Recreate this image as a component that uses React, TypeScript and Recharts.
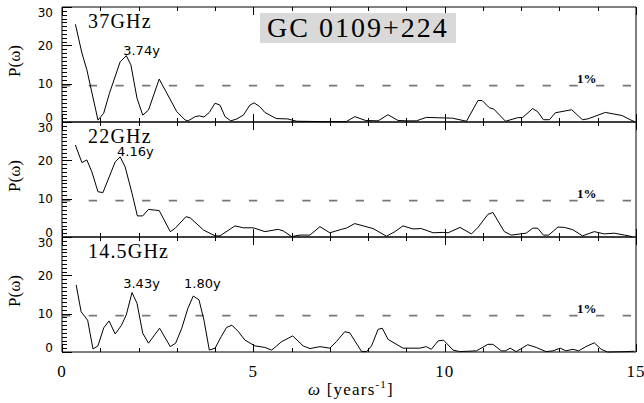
import { LineChart, Line, XAxis, YAxis, ReferenceLine, ReferenceDot } from 'recharts';

// periodogram samples: frequency (1/yr) and power per band
const omega37 = [0.35, 0.52, 0.65, 0.94, 1.09, 1.24, 1.52, 1.68, 1.8, 1.96, 2.11, 2.26, 2.54, 2.74, 3.0, 3.22, 3.3, 3.48, 3.59, 3.71, 3.85, 4.0, 4.13, 4.26, 4.41, 4.57, 4.74, 4.91, 5.02, 5.17, 5.3, 5.6, 5.9, 6.13, 6.83, 7.43, 7.65, 7.93, 8.26, 8.52, 8.78, 9.0, 9.26, 9.52, 9.85, 10.2, 10.57, 10.87, 10.98, 11.17, 11.28, 11.59, 11.9, 12.04, 12.3, 12.43, 12.58, 12.74, 12.89, 13.32, 13.6, 13.74, 14.2, 14.63, 14.87, 14.96];
const power37 = [25.5, 18.0, 13.6, 0.5, 2.3, 7.5, 15.7, 17.3, 14.9, 6.2, 1.8, 3.1, 11.2, 7.5, 2.7, 0.5, 0.3, 1.4, 1.6, 1.3, 2.5, 4.9, 4.4, 1.4, 0.3, 0.8, 1.8, 4.4, 5.0, 4.0, 2.5, 0.9, 0.8, 0.2, 0.1, 0.1, 1.4, 0.4, 0.3, 1.9, 0.4, 0.3, 0.3, 1.2, 1.1, 1.0, 0.2, 5.6, 5.6, 3.7, 3.4, 0.2, 1.1, 1.2, 3.5, 2.7, 0.6, 0.6, 2.4, 3.2, 0.6, 0.8, 2.5, 1.7, 0.5, 0.1];

const omega22 = [0.35, 0.52, 0.65, 0.78, 0.94, 1.07, 1.39, 1.52, 1.65, 1.83, 1.97, 2.11, 2.26, 2.54, 2.83, 2.96, 3.24, 3.35, 3.7, 4.0, 4.13, 4.52, 4.74, 5.0, 5.3, 5.65, 5.78, 6.0, 6.22, 6.48, 6.74, 7.0, 7.3, 7.43, 7.65, 7.87, 8.13, 8.48, 8.7, 8.91, 9.17, 9.39, 9.7, 9.96, 10.09, 10.4, 10.7, 10.87, 11.13, 11.26, 11.56, 11.74, 12.13, 12.3, 12.43, 12.58, 12.72, 12.96, 13.13, 13.35, 13.6, 13.91, 14.17, 14.43, 14.7, 14.9];
const power22 = [24.0, 19.4, 20.1, 17.0, 11.8, 11.6, 19.6, 20.9, 18.3, 11.4, 5.5, 5.5, 7.2, 6.9, 1.4, 2.3, 5.3, 5.0, 1.8, 0.3, 0.3, 2.9, 2.4, 2.4, 1.4, 2.0, 1.6, 0.1, 0.5, 0.5, 2.7, 1.1, 2.0, 2.3, 3.5, 2.9, 2.2, 0.2, 1.4, 2.9, 2.1, 2.2, 1.1, 1.2, 1.1, 2.5, 0.8, 2.5, 5.9, 6.4, 1.4, 0.5, 1.0, 2.3, 2.3, 0.5, 0.5, 2.6, 2.5, 1.9, 0.3, 1.4, 0.8, 1.0, 0.5, 0.1];

const omega145 = [0.37, 0.5, 0.67, 0.81, 0.94, 1.09, 1.23, 1.39, 1.55, 1.68, 1.83, 1.96, 2.11, 2.26, 2.55, 2.83, 2.97, 3.13, 3.29, 3.43, 3.58, 3.71, 3.85, 4.0, 4.16, 4.3, 4.44, 4.61, 4.78, 5.04, 5.3, 5.48, 5.74, 6.03, 6.3, 6.48, 6.74, 7.0, 7.17, 7.39, 7.52, 7.83, 7.96, 8.09, 8.26, 8.37, 8.52, 8.91, 9.35, 9.52, 9.65, 9.83, 9.97, 10.22, 10.39, 10.83, 11.13, 11.26, 11.48, 11.59, 11.71, 11.87, 12.17, 12.39, 12.65, 12.83, 13.02, 13.17, 13.35, 13.5, 13.69, 13.91, 14.09, 14.26, 14.74, 14.96];
const power145 = [17.5, 10.5, 8.3, 0.8, 1.6, 6.3, 8.1, 4.7, 6.9, 9.7, 15.5, 12.7, 4.9, 2.3, 6.2, 1.4, 2.3, 6.2, 11.4, 14.6, 13.6, 8.3, 0.5, 1.0, 4.0, 6.4, 7.0, 5.3, 3.1, 1.6, 1.2, 0.5, 2.7, 4.2, 1.6, 0.9, 1.4, 1.0, 2.7, 5.3, 5.0, 0.1, 0.1, 1.6, 5.9, 6.2, 3.3, 1.0, 1.0, 1.4, 0.7, 2.9, 3.1, 0.5, 0.1, 0.3, 2.0, 2.0, 0.3, 0.3, 1.0, 0.1, 1.9, 1.2, 0.1, 0.3, 1.0, 0.3, 0.7, 0.3, 1.4, 2.4, 0.7, 0.0, 0.1, 0.2];

const bandNames = ['37GHz', '22GHz', '14.5GHz'];
const sigLevel = 9.5;
const xTicks = Array.from({ length: 16 }, (_, i) => i);
const yTicks = Array.from({ length: 31 }, (_, i) => i);

// peak period annotations (text anchor in data units)
const peakText = [['3.74y'], ['4.16y'], ['3.43y', '1.80y']];
const peakOmega = [[1.6], [1.44], [1.6, 3.19]];
const peakPower = [[17.5], [21.2], [16.6, 16.6]];

const W = 644;
const PAD = 10;
const SERIF = '"Liberation Serif", "DejaVu Serif", serif';
const SANS = '"DejaVu Sans", sans-serif';

const yTick = (side: 'l' | 'r') => (props: any) => {
  const { x, y, payload } = props;
  const v = payload.value;
  const major = v % 10 === 0;
  const len = major ? 10 : 5;
  const d = side === 'l' ? 1 : -1;
  let dy = 4.5;
  if (v === 30) dy = 10;
  if (v === 0) dy = -0.5;
  const yy = Math.round(y) + 0.5;
  return (
    <g>
      <path d={`M${x},${yy}H${x + d * len}`} stroke="#000" strokeWidth={1} fill="none" />
      {side === 'l' && major && (
        <text x={x - 9} y={y + dy} textAnchor="end" fontFamily={SANS} fontSize={12} fill="#000">
          {v}
        </text>
      )}
    </g>
  );
};

const xTick = (side: 'b' | 't', labels: boolean) => (props: any) => {
  const { x, y, payload } = props;
  const v = payload.value;
  const major = v % 5 === 0;
  const len = major ? 8 : 4;
  const d = side === 'b' ? -1 : 1;
  const xx = Math.round(x) + 0.5;
  return (
    <g>
      <path d={`M${xx},${y}V${y + d * len}`} stroke="#000" strokeWidth={1} fill="none" />
      {labels && major && (
        <text x={x} y={y + 25} textAnchor="middle" fontFamily={SERIF} fontSize={17} letterSpacing={1} fill="#000">
          {v}
        </text>
      )}
    </g>
  );
};

function Panel({ omega, power, idx, top, bottomAxis }: { omega: number[]; power: number[]; idx: number; top: number; bottomAxis: boolean }) {
  const rows = omega.map((w, i) => ({ w, p: power[i] }));
  const xh = bottomAxis ? 51 : 1;
  const h = PAD + 115 + xh + 1 + (bottomAxis ? 0 : PAD);
  return (
    <div style={{ position: 'absolute', left: 0, top: top - PAD - 1, width: W, height: h }}>
      <LineChart
        width={W}
        height={h}
        data={rows}
        margin={{ top: PAD, right: 0, bottom: bottomAxis ? 0 : PAD, left: 0 }}
      >
        <XAxis
          xAxisId="b"
          dataKey="w"
          type="number"
          domain={[0, 15]}
          ticks={xTicks}
          interval={0}
          height={xh}
          tickSize={0}
          tickMargin={0}
          tickLine={false}
          axisLine={false}
          tick={xTick('b', bottomAxis)}
        />
        <XAxis
          xAxisId="t"
          orientation="top"
          dataKey="w"
          type="number"
          domain={[0, 15]}
          ticks={xTicks}
          interval={0}
          height={1}
          tickSize={0}
          tickMargin={0}
          tickLine={false}
          axisLine={false}
          tick={xTick('t', false)}
        />
        <YAxis
          yAxisId="l"
          type="number"
          domain={[0, 30]}
          ticks={yTicks}
          interval={0}
          width={62}
          tickSize={0}
          tickMargin={0}
          tickLine={false}
          axisLine={false}
          tick={yTick('l')}
        />
        <YAxis
          yAxisId="r"
          orientation="right"
          type="number"
          domain={[0, 30]}
          ticks={yTicks}
          interval={0}
          width={8}
          tickSize={0}
          tickMargin={0}
          tickLine={false}
          axisLine={false}
          tick={yTick('r')}
        />
        <ReferenceLine
          xAxisId="b"
          yAxisId="l"
          y={sigLevel}
          stroke="#777"
          strokeWidth={1.6}
          strokeDasharray="8.3 18.4"
        />
        {/* plot frame */}
        <ReferenceLine xAxisId="b" yAxisId="l" x={0} stroke="#000" strokeWidth={1} />
        <ReferenceLine xAxisId="b" yAxisId="l" x={15} stroke="#000" strokeWidth={1} />
        <ReferenceLine xAxisId="b" yAxisId="l" y={0} stroke="#000" strokeWidth={1} />
        <ReferenceLine xAxisId="b" yAxisId="l" y={30} stroke="#000" strokeWidth={1} />
        <Line
          xAxisId="b"
          yAxisId="l"
          type="linear"
          dataKey="p"
          stroke="#000"
          strokeWidth={1}
          dot={false}
          isAnimationActive={false}
        />
        {peakText[idx].map((t, k) => (
          <ReferenceDot
            key={t}
            xAxisId="b"
            yAxisId="l"
            x={peakOmega[idx][k]}
            y={peakPower[idx][k]}
            r={0}
            shape={(p: any) => (
              <text x={p.cx} y={p.cy} fontFamily={SANS} fontSize={13} fill="#000">
                {t}
              </text>
            )}
          />
        ))}
      </LineChart>
    </div>
  );
}

export default function App() {
  const panelTops = [7, 122, 237];
  return (
    <div style={{ position: 'absolute', left: 0, top: 0, width: W, height: 403, background: '#fff', overflow: 'hidden' }}>
      <Panel omega={omega37} power={power37} idx={0} top={panelTops[0]} bottomAxis={false} />
      <Panel omega={omega22} power={power22} idx={1} top={panelTops[1]} bottomAxis={false} />
      <Panel omega={omega145} power={power145} idx={2} top={panelTops[2]} bottomAxis={true} />
      <svg width={W} height={403} style={{ position: 'absolute', left: 0, top: 0, pointerEvents: 'none' }}>
        <rect x={260} y={13} width={196} height={30} fill="#d9d9d9" />
        <text x={267} y={37} fontFamily={SERIF} fontSize={28} letterSpacing={2} fill="#000">
          GC 0109+224
        </text>
        {bandNames.map((n, i) => (
          <g key={n}>
            <text x={88} y={panelTops[i] + 21} fontFamily={SERIF} fontSize={20} letterSpacing={1.2} fill="#000">
              {n}
            </text>
            <text x={577} y={panelTops[i] + 76} fontFamily={SERIF} fontSize={13} fontWeight="bold" fill="#000">
              1%
            </text>
            <text
              x={20}
              y={panelTops[i] + 54}
              transform={`rotate(-90 20 ${panelTops[i] + 54})`}
              textAnchor="middle"
              fontFamily={SERIF}
              fontSize={17}
              fill="#000"
            >
              P(ω)
            </text>
          </g>
        ))}
        <text x={351} y={395} textAnchor="middle" fontFamily={SERIF} fontSize={17} letterSpacing={1.2} fill="#000">
          <tspan fontStyle="italic">ω</tspan>
          <tspan> [years</tspan>
          <tspan fontSize={11} dy={-7}>-1</tspan>
          <tspan dy={7}>]</tspan>
        </text>
      </svg>
    </div>
  );
}
